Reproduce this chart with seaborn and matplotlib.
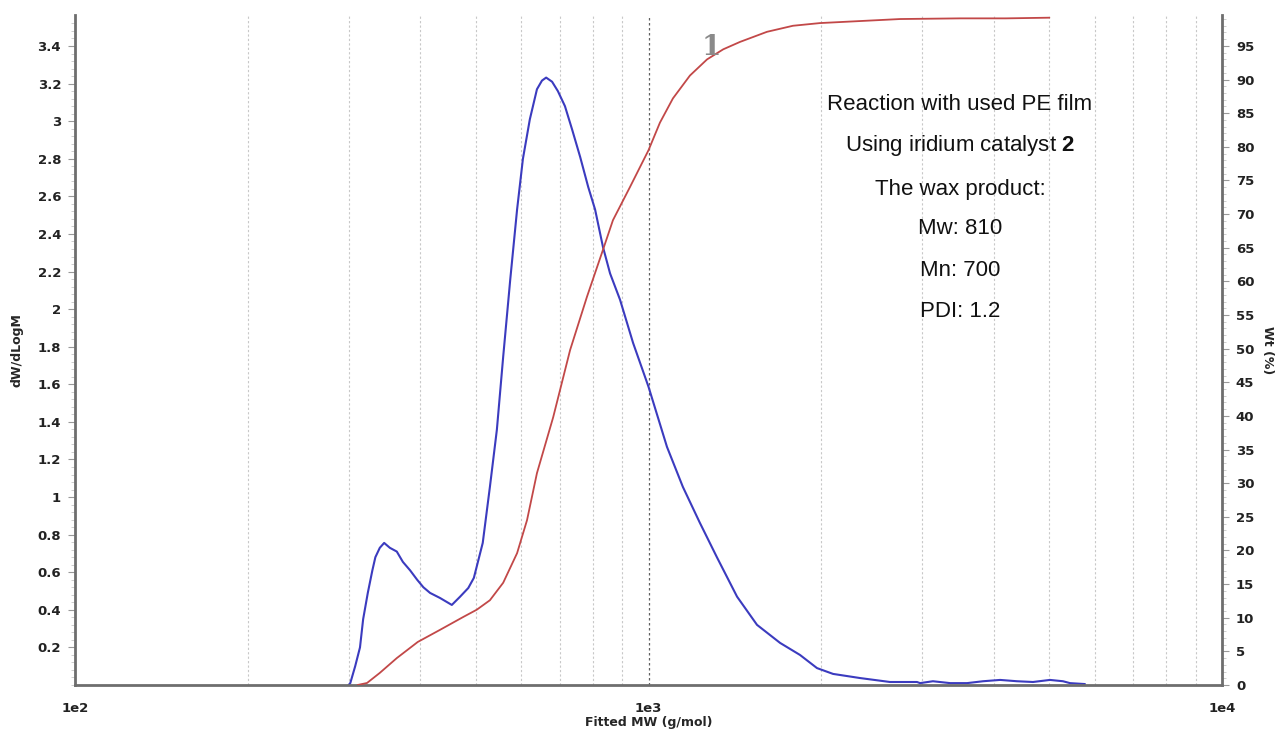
import numpy as np
import pandas as pd
import matplotlib
matplotlib.use("Agg")
import matplotlib.pyplot as plt
import seaborn as sns
from matplotlib.ticker import FixedLocator, NullFormatter, FixedFormatter

# ---- data ----
dist_mw = [300, 302, 308, 314, 318, 324, 330, 334, 340, 346, 354, 364, 373, 384, 395,
           405, 416, 433, 454, 469, 485, 496, 514, 529, 544, 558, 574, 590, 604, 621,
           639, 652, 663, 679, 695, 715, 736, 760, 785, 807, 833, 857, 892, 940, 1000,
           1077, 1148, 1229, 1316, 1427, 1546, 1696, 1837, 1967, 2098, 2338, 2637, 2939,
           2975, 3133, 3357, 3593, 3831, 4103, 4391, 4682, 5012, 5281, 5431, 5768]
dist_val = [0.0, 0.01, 0.10, 0.20, 0.35, 0.49, 0.61, 0.68, 0.73, 0.756, 0.73, 0.71, 0.655,
            0.61, 0.56, 0.52, 0.49, 0.463, 0.426, 0.469, 0.516, 0.57, 0.756, 1.054, 1.358,
            1.747, 2.157, 2.53, 2.80, 3.01, 3.17, 3.216, 3.232, 3.21, 3.16, 3.08, 2.955,
            2.81, 2.65, 2.53, 2.33, 2.19, 2.05, 1.82, 1.587, 1.267, 1.054, 0.863, 0.68,
            0.47, 0.32, 0.224, 0.16, 0.09, 0.059, 0.037, 0.016, 0.016, 0.01, 0.02, 0.01,
            0.01, 0.02, 0.027, 0.02, 0.016, 0.027, 0.02, 0.01, 0.005]

cum_mw = [311, 323, 340, 364, 396, 433, 475, 502, 529, 558, 590, 614, 639, 682, 730, 781,
          833, 867, 928, 1000, 1047, 1103, 1181, 1265, 1350, 1444, 1609, 1786, 1991, 2338,
          2746, 3500, 4200, 5000]
cum_val = [0.0, 0.3, 1.8, 4.0, 6.4, 8.2, 10.1, 11.2, 12.6, 15.2, 19.6, 24.5, 31.5, 39.8,
           49.8, 57.7, 64.7, 69.1, 74.0, 79.5, 83.6, 87.2, 90.6, 93.0, 94.5, 95.6, 97.1,
           98.0, 98.4, 98.7, 99.0, 99.1, 99.1, 99.2]

left_ticks = [0.2, 0.4, 0.6, 0.8, 1.0, 1.2, 1.4, 1.6, 1.8, 2.0, 2.2, 2.4, 2.6, 2.8, 3.0, 3.2, 3.4]
left_labels = ["0.2", "0.4", "0.6", "0.8", "1", "1.2", "1.4", "1.6", "1.8", "2", "2.2",
               "2.4", "2.6", "2.8", "3", "3.2", "3.4"]
right_ticks = list(range(0, 100, 5))
right_labels = [str(v) for v in right_ticks]
x_ticks = [1e2, 1e3, 1e4]
x_labels = ["1e2", "1e3", "1e4"]

info_lines = ["Reaction with used PE film",
              "Using iridium catalyst $\\mathbf{2}$",
              "The wax product:",
              "Mw: 810",
              "Mn: 700",
              "PDI: 1.2"]

# ---- plotting ----
sns.set_style("white")
plt.rcParams['font.family'] = ['DejaVu Sans']
plt.rcParams['mathtext.fontset'] = 'custom'
plt.rcParams['mathtext.bf'] = 'Liberation Sans:bold'

fig = plt.figure(figsize=(12.78, 7.31), dpi=100)
ax = fig.add_axes([75/1278, 1 - 685/731, (1222 - 75)/1278, (685 - 15)/731])
ax2 = ax.twinx()

dist_df = pd.DataFrame({"mw": dist_mw, "val": dist_val})
cum_df = pd.DataFrame({"mw": cum_mw, "val": cum_val})

sns.lineplot(data=dist_df, x="mw", y="val", ax=ax, color="#3b3bbf", linewidth=1.5,
             sort=False, estimator=None)
sns.lineplot(data=cum_df, x="mw", y="val", ax=ax2, color="#c24848", linewidth=1.3,
             sort=False, estimator=None)

ax.set_xscale("log")
ax.set_xlim(100, 10000)
ax.set_ylim(0, 3.565)
ax2.set_ylim(0, 99.6)

# grid lines
minor_pos = [m * 10**d for d in (2, 3) for m in range(2, 10)]
for p in minor_pos:
    ax.axvline(p, color="#c8c8c8", linestyle=(0, (2, 2)), linewidth=0.8, zorder=0)
ax.axvline(1000, color="#606060", linestyle=(0, (2, 2)), linewidth=0.9, zorder=0)

# ticks
ax.xaxis.set_major_locator(FixedLocator(x_ticks))
ax.xaxis.set_major_formatter(FixedFormatter(x_labels))
ax.xaxis.set_minor_locator(FixedLocator(minor_pos))
ax.xaxis.set_minor_formatter(NullFormatter())
ax.set_yticks(left_ticks)
ax.set_yticklabels(left_labels)
ax.yaxis.set_minor_locator(FixedLocator(list(np.arange(0, 3.56, 0.04))))
ax2.set_yticks(right_ticks)
ax2.set_yticklabels(right_labels)
ax2.yaxis.set_minor_locator(FixedLocator(list(range(0, 100, 1))))

for lab in ax.get_xticklabels() + ax.get_yticklabels() + ax2.get_yticklabels():
    lab.set_fontsize(9.5)
    lab.set_fontweight("bold")
    lab.set_color("#222222")

ax.tick_params(axis="x", which="major", length=4, width=1, color="#888888", pad=8, direction="out")
ax.tick_params(axis="x", which="minor", length=3, width=0.6, color="#bbbbbb", direction="out")
ax.tick_params(axis="y", which="major", length=5, width=0.8, color="#999999", pad=5, direction="out")
ax.tick_params(axis="y", which="minor", length=3, width=0.5, color="#bbbbbb", direction="out")
ax2.tick_params(axis="y", which="major", length=5, width=0.8, color="#999999", pad=5, direction="out")
ax2.tick_params(axis="y", which="minor", length=3, width=0.5, color="#bbbbbb", direction="out")

for a in (ax, ax2):
    a.spines["top"].set_visible(False)
    for s in ("left", "right", "bottom"):
        a.spines[s].set_color("#6e6e6e")
        a.spines[s].set_linewidth(2)
ax.spines["right"].set_visible(False)
ax2.spines["left"].set_visible(False)
ax2.spines["bottom"].set_visible(False)

ax.set_xlabel("Fitted MW (g/mol)", fontsize=9, fontweight="bold", labelpad=1)
ax.set_ylabel("dW/dLogM", fontsize=9, fontweight="bold", labelpad=10)
ax2.set_ylabel("Wt (%)", fontsize=9, fontweight="bold", rotation=270, labelpad=14)

# annotation "1"
ax2.text(1285, 94.8, "1", fontsize=20, family="DejaVu Serif", fontweight="bold",
         color="#8a8a8a", ha="center", va="center")

# info block
ys = [104, 146, 189, 229, 270, 311]
for line, yp in zip(info_lines, ys):
    fig.text(960/1278, 1 - yp/731, line, fontsize=16, family="Liberation Sans",
             ha="center", va="center", color="#111111")

fig.savefig("out.png", dpi=100)
